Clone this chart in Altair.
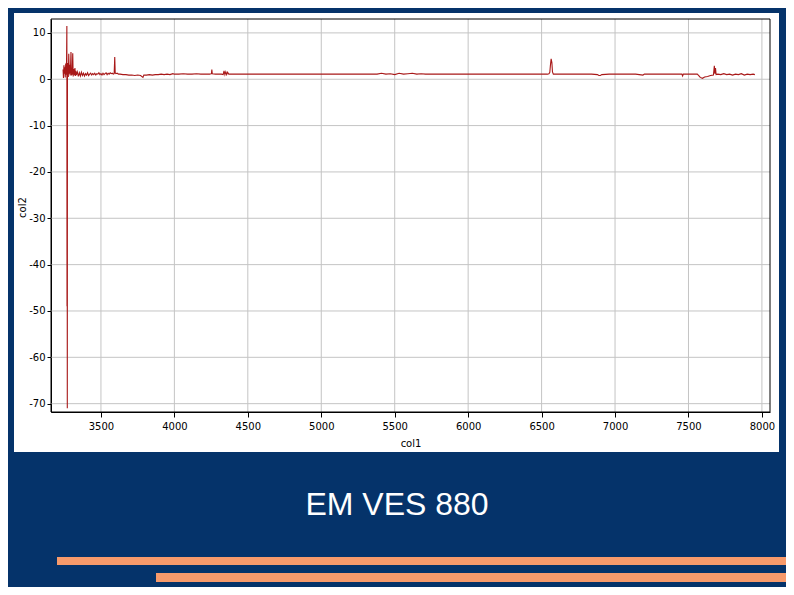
import altair as alt
import pandas as pd

# ---- data ----
col1 = [3242, 3245, 3248, 3251, 3254, 3257, 3260, 3263, 3266, 3268, 3269, 3270, 3271, 3272, 3274,
        3276, 3278, 3281, 3284, 3287, 3290, 3293, 3296, 3299, 3302, 3305, 3308, 3311, 3314, 3317,
        3320, 3323, 3326, 3329,
        3332, 3339, 3346, 3353, 3360, 3367, 3374, 3381, 3388, 3395, 3402, 3409, 3416, 3423, 3430,
        3437, 3444, 3451, 3458, 3465, 3472, 3479, 3486, 3493, 3500, 3507, 3514, 3521, 3528, 3535,
        3542, 3549, 3556, 3563, 3570, 3577, 3584, 3590, 3594, 3597, 3602, 3610, 3620,
        3630, 3650, 3670, 3690, 3710, 3730, 3750, 3770, 3786, 3792, 3810, 3830, 3850, 3870, 3890,
        3910, 3930, 3950, 3970, 3990, 4000, 4030, 4060, 4090, 4120, 4150, 4180, 4210, 4240, 4252,
        4255, 4258, 4280, 4300, 4320, 4332, 4338, 4344, 4350, 4356, 4362, 4370, 4390, 4420,
        4480, 4540, 4600, 4660, 4720, 4780, 4840, 4900, 4960, 5020, 5080, 5140, 5200, 5260, 5320,
        5380, 5410, 5440, 5470, 5500, 5530, 5560, 5590, 5620, 5650, 5680, 5710, 5770, 5830, 5890,
        5950, 6010, 6070, 6130, 6190, 6250, 6310, 6370, 6430, 6490, 6540, 6550, 6556, 6560, 6565,
        6570, 6574, 6580, 6600, 6660, 6720, 6780, 6840, 6880, 6890, 6900, 6910, 6960, 7020, 7080,
        7140, 7190, 7200, 7260, 7320, 7380, 7440, 7455, 7460, 7465, 7510, 7560, 7570, 7580, 7595,
        7610, 7630, 7650, 7670, 7676, 7680, 7684, 7688, 7700, 7720, 7740, 7760, 7780, 7800, 7820,
        7840, 7860, 7880, 7900, 7920, 7940, 7952]
col2 = [2.1, 0.3, 3.0, 1.2, 2.6, 0.4, 3.4, 1.0, 4.2, 11.5, -49.0, 1.5, -71.0, 3.5, 1.6,
        2.9, 0.5, 5.5, 1.2, 3.1, 0.8, 2.4, 5.9, 0.8, 2.5, 1.0, 5.6, 0.6, 2.2, 1.9,
        0.9, 2.4, 0.7, 1.8,
        0.9, 1.6, 0.6, 1.4, 0.7, 1.5, 0.8, 1.3, 0.7, 1.2, 0.9, 1.4, 0.8, 1.1, 1.3,
        0.9, 1.2, 1.0, 1.3, 0.9, 1.2, 1.1, 1.4, 1.0, 1.2, 0.9, 1.3, 1.0, 1.2, 1.4,
        1.0, 1.3, 1.1, 1.4, 1.2, 1.3, 1.1, 1.2, 4.8, 1.4, 1.2, 1.3, 1.1,
        1.1, 1.0, 1.0, 0.9, 0.9, 0.8, 0.9, 0.8, 0.4, 0.9, 0.9, 1.0, 0.9, 1.0, 1.0,
        1.1, 1.0, 1.1, 1.0, 1.2, 1.1, 1.1, 1.2, 1.1, 1.1, 1.2, 1.1, 1.1, 1.1, 1.2,
        2.1, 1.2, 1.1, 1.1, 1.1, 1.0, 1.8, 1.0, 1.6, 1.0, 1.5, 1.1, 1.1, 1.1,
        1.1, 1.1, 1.1, 1.1, 1.1, 1.1, 1.1, 1.1, 1.1, 1.1, 1.1, 1.1, 1.1, 1.1, 1.1,
        1.1, 1.3, 1.1, 1.2, 1.0, 1.3, 1.1, 1.2, 1.3, 1.1, 1.2, 1.1, 1.1, 1.1, 1.1,
        1.1, 1.1, 1.1, 1.1, 1.1, 1.1, 1.1, 1.1, 1.1, 1.1, 1.1, 1.2, 1.5, 3.0, 4.4,
        3.6, 1.6, 1.1, 1.1, 1.1, 1.1, 1.1, 1.1, 1.0, 0.8, 0.8, 1.0, 1.1, 1.1, 1.1,
        1.1, 0.9, 1.1, 1.1, 1.1, 1.1, 1.1, 1.1, 0.7, 1.1, 1.1, 1.1, 0.8, 0.4, 0.2,
        0.5, 0.6, 0.8, 0.9, 2.9, 1.2, 2.4, 1.0, 1.1, 1.0, 1.2, 1.0, 1.1, 0.9, 1.1,
        1.0, 1.2, 0.9, 1.1, 1.0, 1.1, 1.0]

x_ticks = [3500, 4000, 4500, 5000, 5500, 6000, 6500, 7000, 7500, 8000]
y_ticks = [10, 0, -10, -20, -30, -40, -50, -60, -70]
title_text = "EM VES 880"
x_title = "col1"
y_title = "col2"

W, H = 719, 393
NAVY = "#05336a"
ORANGE = "#f79a6b"

series = pd.DataFrame({"col1": col1, "col2": col2})
one = pd.DataFrame({"k": [0]})

xs = alt.Scale(domain=[3160, 8055], nice=False, zero=False)
ys = alt.Scale(domain=[-71.8, 13], nice=False, zero=False)

x_axis = alt.Axis(values=x_ticks, labelExpr="toString(datum.value)", title=x_title,
                  grid=False, titleX=W / 2, titleY=31, titleBaseline="middle",
                  labelPadding=4, tickSize=5)
y_axis = alt.Axis(values=y_ticks, labelExpr="toString(datum.value)", title=y_title,
                  grid=False, titleX=-29, titleY=188, titleBaseline="middle",
                  labelPadding=2, tickSize=4)


def box(x1, x2, y1, y2, color):
    return alt.Chart(one).mark_rect(color=color).encode(
        x=alt.value(x1), x2=alt.value(x2), y=alt.value(y1), y2=alt.value(y2))


# navy surround (page background) around the white chart panel
navy_top = box(-43, 735, -11, -6, NAVY)
navy_left = box(-43, -37, -11, 568, NAVY)
navy_right = box(728, 735, -11, 568, NAVY)
navy_bottom = box(-43, 735, 433, 568, NAVY)

bar1 = box(6, 740, 538, 546, ORANGE)
bar2 = box(105, 740, 554, 563, ORANGE)

title = alt.Chart(one).mark_text(
    text=title_text, color="white", font="Liberation Sans", fontSize=32,
    align="center", baseline="middle").encode(x=alt.value(346), y=alt.value(486))

xgrid = alt.Chart(pd.DataFrame({"v": x_ticks})).mark_rule(
    color="#c4c4c4", strokeWidth=1).encode(x=alt.X("v:Q", scale=xs, axis=x_axis, title=x_title))
ygrid = alt.Chart(pd.DataFrame({"v": y_ticks})).mark_rule(
    color="#c4c4c4", strokeWidth=1).encode(y=alt.Y("v:Q", scale=ys, axis=y_axis, title=y_title))

line = alt.Chart(series).mark_line(color="#a81818", strokeWidth=1.1).encode(
    x=alt.X("col1:Q", scale=xs, axis=x_axis, title=x_title),
    y=alt.Y("col2:Q", scale=ys, axis=y_axis, title=y_title),
    order=alt.Order("col1:Q"),
)

frame = alt.Chart(one).mark_rect(fillOpacity=0, stroke="black", strokeWidth=1).encode(
    x=alt.value(0), x2=alt.value(W), y=alt.value(0), y2=alt.value(H))

chart = alt.layer(xgrid, ygrid, line, frame, navy_top, navy_left, navy_right,
                  navy_bottom, bar1, bar2, title).properties(
    width=W, height=H,
    autosize=alt.AutoSizeParams(type="none"),
    padding={"left": 43, "top": 11, "right": 16, "bottom": 175},
    background="white",
).configure_view(stroke=None).configure_axis(
    domainColor="black", tickColor="black", labelColor="black",
    labelFont="DejaVu Sans", labelFontSize=10, titleFont="DejaVu Sans",
    titleFontSize=10, titleFontWeight="normal", titleColor="black",
)

chart.save("out.html", embed_options={"renderer": "svg", "actions": False})
